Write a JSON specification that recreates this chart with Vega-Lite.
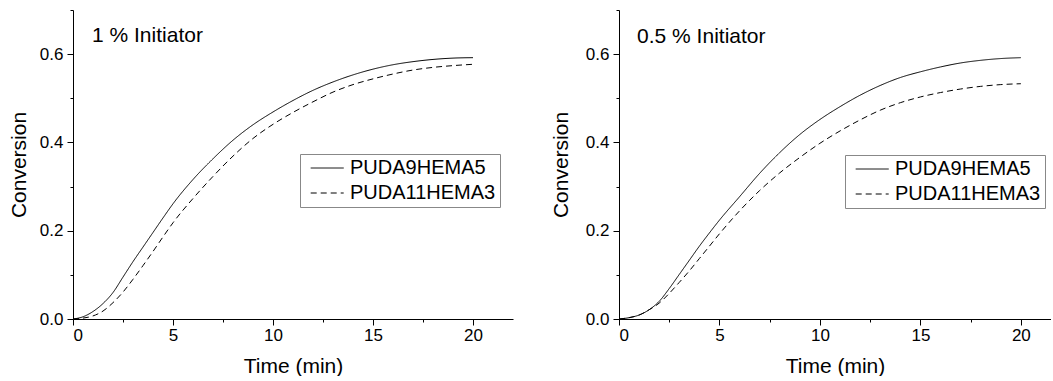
{
  "$schema": "https://vega.github.io/schema/vega-lite/v6.json",
  "padding": {"left": 8, "top": 9, "right": 0, "bottom": 0},
  "config": {
    "font": "Liberation Sans",
    "view": {"stroke": null},
    "axis": {"domainColor": "#000", "tickColor": "#000", "labelColor": "#000", "titleColor": "#000", "labelFontSize": 17, "titleFontSize": 21, "titleFontWeight": "normal", "grid": false, "domainWidth": 1, "tickWidth": 1, "labelFont": "Liberation Sans", "titleFont": "Liberation Sans"},
    "legend": {"title": null, "orient": "none", "strokeColor": "#888", "fillColor": "white", "padding": 4, "rowPadding": 5, "symbolType": "M-0.6,0H5.4", "symbolSize": 121, "symbolStrokeWidth": 1, "symbolStrokeColor": "black", "symbolFillColor": "transparent", "labelFontSize": 20, "labelFont": "Liberation Sans", "labelOffset": 26, "labelColor": "black", "labelLimit": 400},
    "text": {"font": "Liberation Sans", "fontSize": 21, "color": "black"}
  },
  "spacing": 37,
  "resolve": {"scale": {"strokeDash": "independent"}, "legend": {"strokeDash": "independent"}},
  "hconcat": [
    {
      "width": 440,
      "height": 309,
      "resolve": {"axis": {"x": "independent", "y": "independent"}},
      "layer": [
        {
          "data": {"values": [
            {"time":0,"conversion":0,"series":"PUDA9HEMA5"},{"time":0.5,"conversion":0.005,"series":"PUDA9HEMA5"},{"time":1,"conversion":0.017,"series":"PUDA9HEMA5"},{"time":1.5,"conversion":0.035,"series":"PUDA9HEMA5"},{"time":2,"conversion":0.060,"series":"PUDA9HEMA5"},{"time":2.5,"conversion":0.095,"series":"PUDA9HEMA5"},{"time":3,"conversion":0.130,"series":"PUDA9HEMA5"},{"time":3.5,"conversion":0.163,"series":"PUDA9HEMA5"},{"time":4,"conversion":0.196,"series":"PUDA9HEMA5"},{"time":4.5,"conversion":0.229,"series":"PUDA9HEMA5"},{"time":5,"conversion":0.261,"series":"PUDA9HEMA5"},{"time":6,"conversion":0.316,"series":"PUDA9HEMA5"},{"time":7,"conversion":0.363,"series":"PUDA9HEMA5"},{"time":8,"conversion":0.405,"series":"PUDA9HEMA5"},{"time":9,"conversion":0.440,"series":"PUDA9HEMA5"},{"time":10,"conversion":0.469,"series":"PUDA9HEMA5"},{"time":11,"conversion":0.495,"series":"PUDA9HEMA5"},{"time":12,"conversion":0.518,"series":"PUDA9HEMA5"},{"time":13,"conversion":0.537,"series":"PUDA9HEMA5"},{"time":14,"conversion":0.553,"series":"PUDA9HEMA5"},{"time":15,"conversion":0.566,"series":"PUDA9HEMA5"},{"time":16,"conversion":0.576,"series":"PUDA9HEMA5"},{"time":17,"conversion":0.583,"series":"PUDA9HEMA5"},{"time":18,"conversion":0.588,"series":"PUDA9HEMA5"},{"time":19,"conversion":0.591,"series":"PUDA9HEMA5"},{"time":20,"conversion":0.592,"series":"PUDA9HEMA5"},
            {"time":0,"conversion":0,"series":"PUDA11HEMA3"},{"time":0.5,"conversion":0.002,"series":"PUDA11HEMA3"},{"time":1,"conversion":0.007,"series":"PUDA11HEMA3"},{"time":1.5,"conversion":0.018,"series":"PUDA11HEMA3"},{"time":2,"conversion":0.037,"series":"PUDA11HEMA3"},{"time":2.5,"conversion":0.061,"series":"PUDA11HEMA3"},{"time":3,"conversion":0.090,"series":"PUDA11HEMA3"},{"time":3.5,"conversion":0.121,"series":"PUDA11HEMA3"},{"time":4,"conversion":0.153,"series":"PUDA11HEMA3"},{"time":4.5,"conversion":0.186,"series":"PUDA11HEMA3"},{"time":5,"conversion":0.218,"series":"PUDA11HEMA3"},{"time":6,"conversion":0.273,"series":"PUDA11HEMA3"},{"time":7,"conversion":0.323,"series":"PUDA11HEMA3"},{"time":8,"conversion":0.369,"series":"PUDA11HEMA3"},{"time":9,"conversion":0.409,"series":"PUDA11HEMA3"},{"time":10,"conversion":0.441,"series":"PUDA11HEMA3"},{"time":11,"conversion":0.468,"series":"PUDA11HEMA3"},{"time":12,"conversion":0.492,"series":"PUDA11HEMA3"},{"time":13,"conversion":0.514,"series":"PUDA11HEMA3"},{"time":14,"conversion":0.531,"series":"PUDA11HEMA3"},{"time":15,"conversion":0.544,"series":"PUDA11HEMA3"},{"time":16,"conversion":0.555,"series":"PUDA11HEMA3"},{"time":17,"conversion":0.564,"series":"PUDA11HEMA3"},{"time":18,"conversion":0.570,"series":"PUDA11HEMA3"},{"time":19,"conversion":0.574,"series":"PUDA11HEMA3"},{"time":20,"conversion":0.577,"series":"PUDA11HEMA3"}
          ]},
          "mark": {"type": "line", "color": "black", "strokeWidth": 1, "interpolate": "monotone"},
          "encoding": {
            "x": {"field": "time", "type": "quantitative", "scale": {"domain": [0, 22], "nice": false, "zero": false}, "axis": {"orient": "bottom", "title": "Time (min)", "values": [0, 5, 10, 15, 20], "tickSize": 6, "labelPadding": 2, "titlePadding": 12}},
            "y": {"field": "conversion", "type": "quantitative", "scale": {"domain": [0, 0.7], "nice": false}, "axis": {"orient": "left", "title": "Conversion", "values": [0, 0.2, 0.4, 0.6], "format": ".1f", "tickSize": 6, "labelPadding": 4, "titlePadding": 10}},
            "strokeDash": {"field": "series", "type": "nominal", "scale": {"domain": ["PUDA9HEMA5", "PUDA11HEMA3"], "range": [[1, 0], [6, 4]]}, "legend": {"legendX": 227, "legendY": 144}}
          }
        },
        {
          "data": {"values": [{"label": "1 % Initiator"}]},
          "mark": {"type": "text", "align": "left", "baseline": "alphabetic"},
          "encoding": {
            "text": {"field": "label"},
            "x": {"datum": 0.95, "type": "quantitative", "axis": {"orient": "bottom", "values": [2.5, 7.5, 12.5, 17.5], "tickSize": 3, "labels": false, "domain": false, "title": null}},
            "y": {"datum": 0.627, "type": "quantitative", "axis": {"orient": "left", "values": [0.1, 0.3, 0.5, 0.7], "tickSize": 3, "labels": false, "domain": false, "title": null}}
          }
        }
      ]
    },
    {
      "width": 432,
      "height": 309,
      "resolve": {"axis": {"x": "independent", "y": "independent"}},
      "layer": [
        {
          "data": {"values": [
            {"time":0,"conversion":0,"series":"PUDA9HEMA5"},{"time":0.5,"conversion":0.003,"series":"PUDA9HEMA5"},{"time":1,"conversion":0.009,"series":"PUDA9HEMA5"},{"time":1.5,"conversion":0.021,"series":"PUDA9HEMA5"},{"time":2,"conversion":0.040,"series":"PUDA9HEMA5"},{"time":2.5,"conversion":0.069,"series":"PUDA9HEMA5"},{"time":3,"conversion":0.101,"series":"PUDA9HEMA5"},{"time":3.5,"conversion":0.133,"series":"PUDA9HEMA5"},{"time":4,"conversion":0.165,"series":"PUDA9HEMA5"},{"time":4.5,"conversion":0.195,"series":"PUDA9HEMA5"},{"time":5,"conversion":0.224,"series":"PUDA9HEMA5"},{"time":6,"conversion":0.277,"series":"PUDA9HEMA5"},{"time":7,"conversion":0.330,"series":"PUDA9HEMA5"},{"time":8,"conversion":0.377,"series":"PUDA9HEMA5"},{"time":9,"conversion":0.418,"series":"PUDA9HEMA5"},{"time":10,"conversion":0.452,"series":"PUDA9HEMA5"},{"time":11,"conversion":0.481,"series":"PUDA9HEMA5"},{"time":12,"conversion":0.507,"series":"PUDA9HEMA5"},{"time":13,"conversion":0.529,"series":"PUDA9HEMA5"},{"time":14,"conversion":0.547,"series":"PUDA9HEMA5"},{"time":15,"conversion":0.560,"series":"PUDA9HEMA5"},{"time":16,"conversion":0.571,"series":"PUDA9HEMA5"},{"time":17,"conversion":0.580,"series":"PUDA9HEMA5"},{"time":18,"conversion":0.586,"series":"PUDA9HEMA5"},{"time":19,"conversion":0.590,"series":"PUDA9HEMA5"},{"time":20,"conversion":0.592,"series":"PUDA9HEMA5"},
            {"time":0,"conversion":0,"series":"PUDA11HEMA3"},{"time":0.5,"conversion":0.003,"series":"PUDA11HEMA3"},{"time":1,"conversion":0.009,"series":"PUDA11HEMA3"},{"time":1.5,"conversion":0.021,"series":"PUDA11HEMA3"},{"time":2,"conversion":0.036,"series":"PUDA11HEMA3"},{"time":2.5,"conversion":0.058,"series":"PUDA11HEMA3"},{"time":3,"conversion":0.083,"series":"PUDA11HEMA3"},{"time":3.5,"conversion":0.109,"series":"PUDA11HEMA3"},{"time":4,"conversion":0.137,"series":"PUDA11HEMA3"},{"time":4.5,"conversion":0.165,"series":"PUDA11HEMA3"},{"time":5,"conversion":0.193,"series":"PUDA11HEMA3"},{"time":6,"conversion":0.245,"series":"PUDA11HEMA3"},{"time":7,"conversion":0.291,"series":"PUDA11HEMA3"},{"time":8,"conversion":0.331,"series":"PUDA11HEMA3"},{"time":9,"conversion":0.366,"series":"PUDA11HEMA3"},{"time":10,"conversion":0.398,"series":"PUDA11HEMA3"},{"time":11,"conversion":0.426,"series":"PUDA11HEMA3"},{"time":12,"conversion":0.451,"series":"PUDA11HEMA3"},{"time":13,"conversion":0.473,"series":"PUDA11HEMA3"},{"time":14,"conversion":0.490,"series":"PUDA11HEMA3"},{"time":15,"conversion":0.503,"series":"PUDA11HEMA3"},{"time":16,"conversion":0.513,"series":"PUDA11HEMA3"},{"time":17,"conversion":0.521,"series":"PUDA11HEMA3"},{"time":18,"conversion":0.527,"series":"PUDA11HEMA3"},{"time":19,"conversion":0.531,"series":"PUDA11HEMA3"},{"time":20,"conversion":0.533,"series":"PUDA11HEMA3"}
          ]},
          "mark": {"type": "line", "color": "black", "strokeWidth": 1, "interpolate": "monotone"},
          "encoding": {
            "x": {"field": "time", "type": "quantitative", "scale": {"domain": [0, 21.5], "nice": false, "zero": false}, "axis": {"orient": "bottom", "title": "Time (min)", "values": [0, 5, 10, 15, 20], "tickSize": 6, "labelPadding": 2, "titlePadding": 12}},
            "y": {"field": "conversion", "type": "quantitative", "scale": {"domain": [0, 0.7], "nice": false}, "axis": {"orient": "left", "title": "Conversion", "values": [0, 0.2, 0.4, 0.6], "format": ".1f", "tickSize": 6, "labelPadding": 4, "titlePadding": 14}},
            "strokeDash": {"field": "series", "type": "nominal", "scale": {"domain": ["PUDA9HEMA5", "PUDA11HEMA3"], "range": [[1, 0], [6, 4]]}, "legend": {"legendX": 226, "legendY": 145}}
          }
        },
        {
          "data": {"values": [{"label": "0.5 % Initiator"}]},
          "mark": {"type": "text", "align": "left", "baseline": "alphabetic"},
          "encoding": {
            "text": {"field": "label"},
            "x": {"datum": 0.9, "type": "quantitative", "axis": {"orient": "bottom", "values": [2.5, 7.5, 12.5, 17.5], "tickSize": 3, "labels": false, "domain": false, "title": null}},
            "y": {"datum": 0.6255, "type": "quantitative", "axis": {"orient": "left", "values": [0.1, 0.3, 0.5, 0.7], "tickSize": 3, "labels": false, "domain": false, "title": null}}
          }
        }
      ]
    }
  ]
}
